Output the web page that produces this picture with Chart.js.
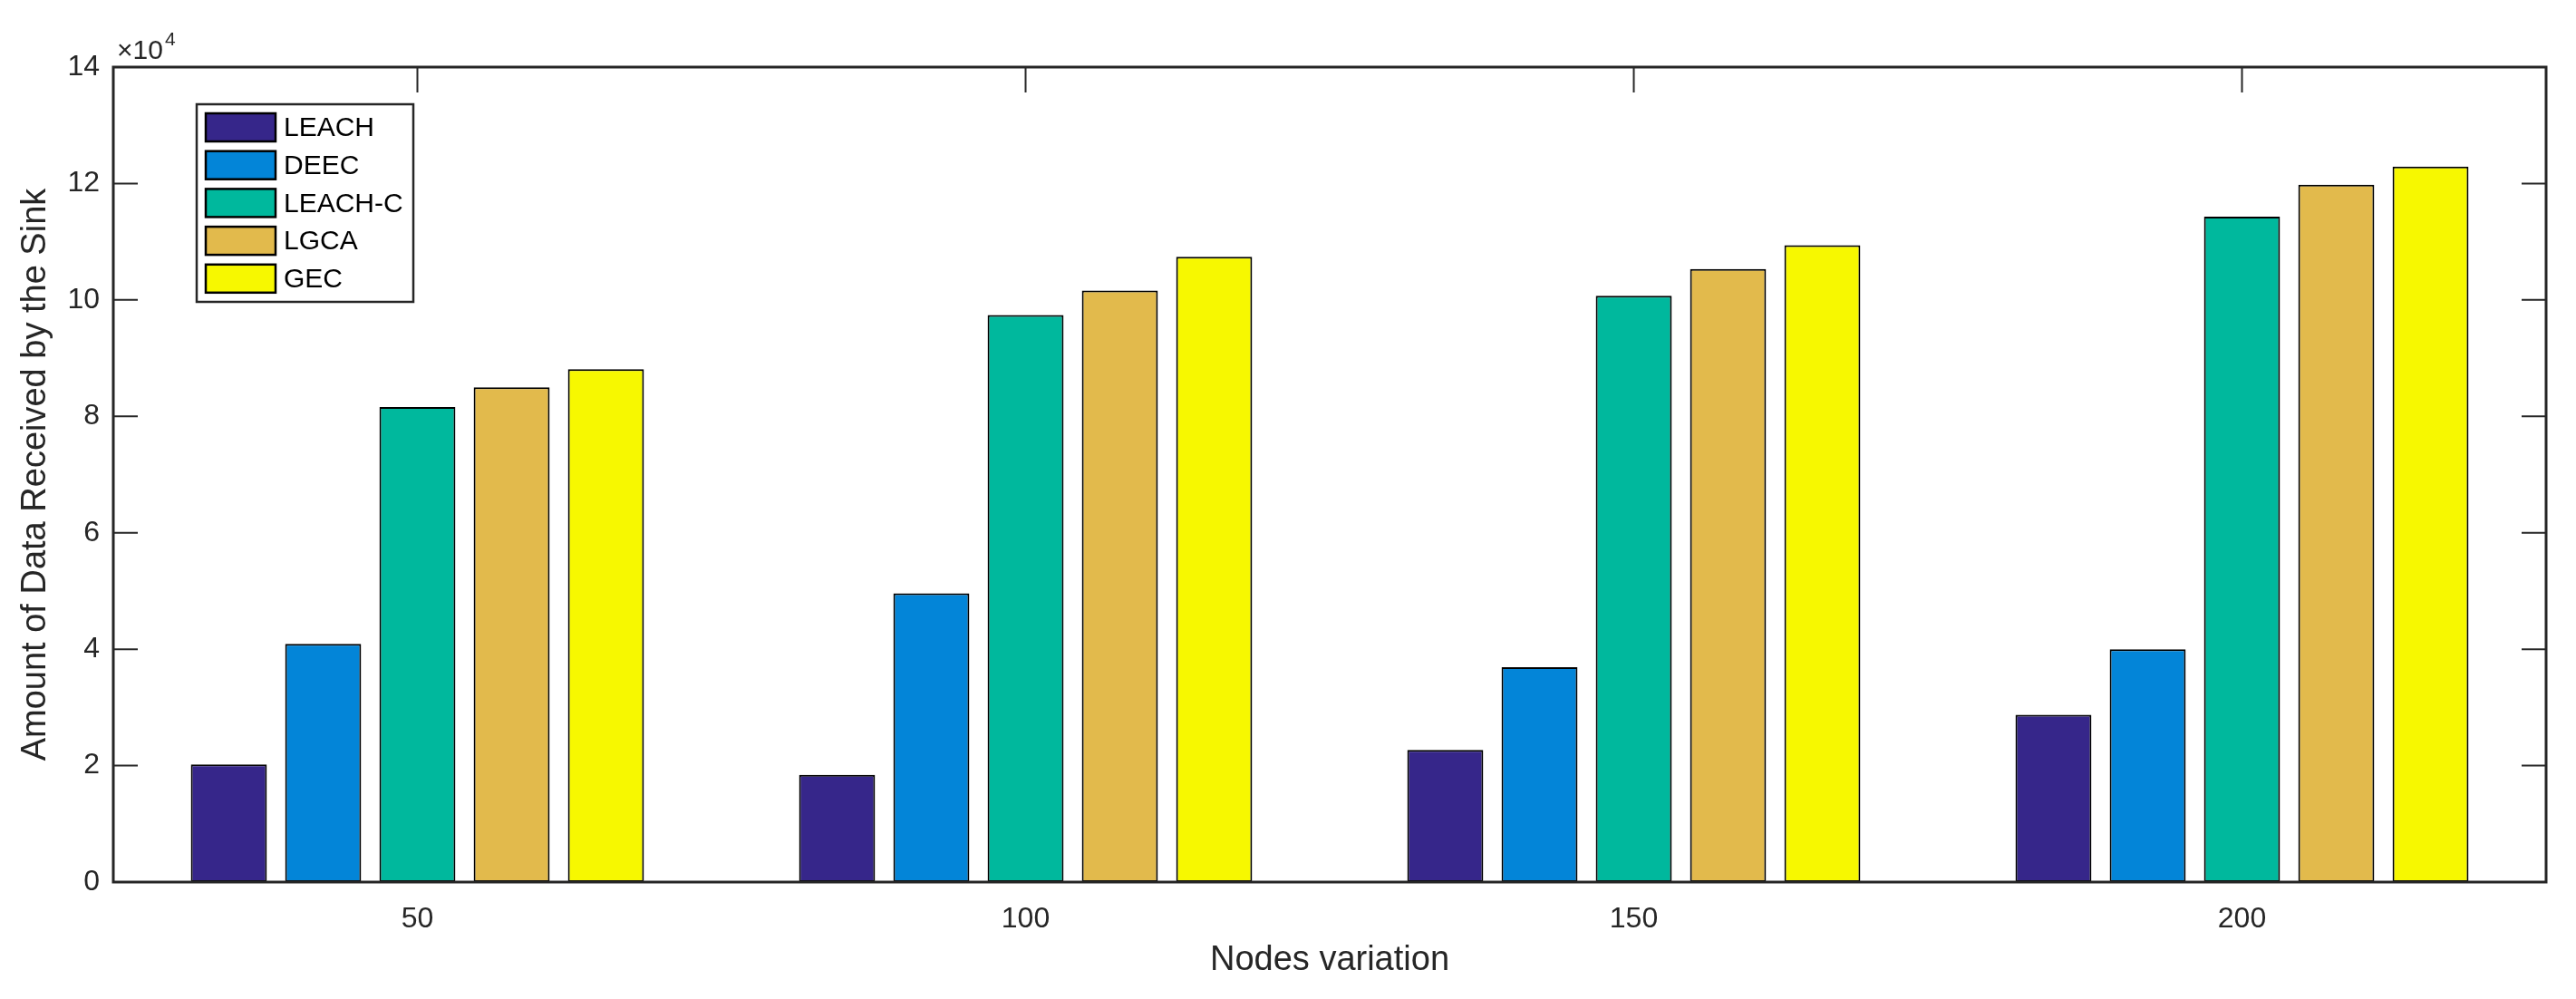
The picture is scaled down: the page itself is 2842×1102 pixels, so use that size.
<!DOCTYPE html>
<html>
<head>
<meta charset="utf-8">
<title>Amount of Data Received by the Sink</title>
<script src="https://cdn.jsdelivr.net/npm/chart.js@4.4.1/dist/chart.umd.min.js"></script>
<style>
  html, body { margin: 0; padding: 0; background: #fff; }
  #wrap { width: 2842px; height: 1102px; position: relative; }
</style>
</head>
<body>
<div id="wrap"><canvas id="barChart"></canvas></div>
<script>
// data (values in units, axis shows x10^4)
const nodes = ["50", "100", "150", "200"];
const protocols = ["LEACH", "DEEC", "LEACH-C", "LGCA", "GEC"];
const leach  = [20200, 18400, 22700, 28750];
const deec   = [40900, 49600, 36900, 40000];
const leachC = [81600, 97400, 100700, 114300];
const lgca   = [85000, 101600, 105300, 119800];
const gec    = [88100, 107400, 109400, 122900];
const yTicks = [0, 20000, 40000, 60000, 80000, 100000, 120000, 140000];

const colors = ['#36268A', '#0385D8', '#00B89D', '#E2BA4C', '#F7F800'];
const FONT = '"Liberation Sans", Arial, Helvetica, sans-serif';
const INK = '#262626';

Chart.defaults.font.family = FONT;
Chart.defaults.color = INK;

// inward ticks on all four sides, drawn under the bars
// then frame, legend and exponent label on top
const axesBox = {
  id: 'axesBox',
  beforeDatasetsDraw(chart) {
    const {ctx, chartArea: a, scales: {x, y}} = chart;
    ctx.save();
    ctx.strokeStyle = INK;
    ctx.lineWidth = 2;
    ctx.beginPath();
    nodes.forEach((n, i) => {
      const px = x.getPixelForTick(i);
      ctx.moveTo(px, a.top); ctx.lineTo(px, a.top + 28);
      ctx.moveTo(px, a.bottom); ctx.lineTo(px, a.bottom - 28);
    });
    yTicks.forEach(v => {
      const py = y.getPixelForValue(v);
      ctx.moveTo(a.left, py); ctx.lineTo(a.left + 27, py);
      ctx.moveTo(a.right, py); ctx.lineTo(a.right - 27, py);
    });
    ctx.stroke();
    ctx.restore();
  },
  afterDatasetsDraw(chart) {
    const {ctx, chartArea: a} = chart;
    ctx.save();
    // frame
    ctx.strokeStyle = INK;
    ctx.lineWidth = 3;
    ctx.strokeRect(a.left, a.top, a.right - a.left, a.bottom - a.top);

    // x10^4
    ctx.fillStyle = INK;
    ctx.textBaseline = 'alphabetic';
    ctx.textAlign = 'left';
    ctx.font = '30px ' + FONT;
    ctx.fillText('\u00d710', a.left + 4, a.top - 9);
    const w = ctx.measureText('\u00d710').width;
    ctx.font = '21px ' + FONT;
    ctx.fillText('4', a.left + 6 + w, a.top - 24);

    // legend
    const lx = a.left + 92, ly = a.top + 41;
    ctx.fillStyle = '#fff';
    ctx.fillRect(lx, ly, 239, 218);
    ctx.lineWidth = 2.5;
    ctx.strokeStyle = INK;
    ctx.strokeRect(lx, ly, 239, 218);
    ctx.font = '30px ' + FONT;
    ctx.textBaseline = 'middle';
    chart.data.datasets.forEach((ds, i) => {
      const sy = ly + 10 + i * 41.7;
      ctx.fillStyle = ds.backgroundColor;
      ctx.fillRect(lx + 10, sy, 77, 31);
      ctx.lineWidth = 2.5;
      ctx.strokeStyle = '#000';
      ctx.strokeRect(lx + 10, sy, 77, 31);
      ctx.fillStyle = '#000';
      ctx.fillText(ds.label, lx + 96, sy + 17);
    });
    ctx.restore();
  }
};

const series = [leach, deec, leachC, lgca, gec];

new Chart(document.getElementById('barChart'), {
  type: 'bar',
  data: {
    labels: nodes,
    datasets: protocols.map((p, i) => ({
      label: p,
      data: series[i],
      backgroundColor: colors[i],
      borderColor: '#000',
      borderWidth: 2,
      borderSkipped: false,
      barPercentage: 0.806,
      categoryPercentage: 0.775
    }))
  },
  options: {
    responsive: true,
    maintainAspectRatio: false,
    devicePixelRatio: 1,
    animation: false,
    layout: { padding: { top: 74, right: 33, left: 0, bottom: 0 } },
    plugins: {
      legend: { display: false },
      tooltip: { enabled: false }
    },
    scales: {
      x: {
        grid: { display: false, drawTicks: false },
        border: { display: false },
        ticks: { padding: 22, font: { size: 32 }, color: INK },
        title: { display: true, text: 'Nodes variation', font: { size: 38 }, color: INK, padding: { top: 0, bottom: 20 } },
        afterFit(s) { s.height = 129; }
      },
      y: {
        min: 0,
        max: 140000,
        grid: { display: false, drawTicks: false },
        border: { display: false },
        ticks: { stepSize: 20000, padding: 15, font: { size: 32 }, color: INK, callback: v => v / 10000 },
        title: { display: true, text: 'Amount of Data Received by the Sink', font: { size: 38 }, color: INK, padding: { top: 17, bottom: 0 } },
        afterFit(s) { s.width = 125; }
      }
    }
  },
  plugins: [axesBox]
});
</script>
</body>
</html>
